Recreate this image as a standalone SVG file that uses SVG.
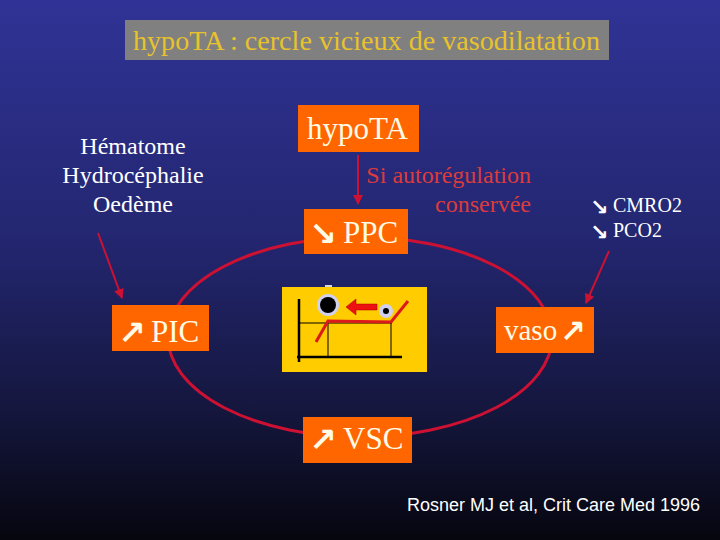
<svg xmlns="http://www.w3.org/2000/svg" width="720" height="540" viewBox="0 0 720 540">
<defs>
<linearGradient id="bg" x1="0" y1="0" x2="0" y2="1">
<stop offset="0" stop-color="#303395"/>
<stop offset="0.45" stop-color="#23266f"/>
<stop offset="0.75" stop-color="#15173f"/>
<stop offset="1" stop-color="#06060f"/>
</linearGradient>
<marker id="ah" viewBox="0 0 10 10" refX="9" refY="5" markerWidth="5" markerHeight="5" orient="auto">
<path d="M0,0 L10,5 L0,10 z" fill="#cc1133"/>
</marker>
<style>
.box{fill:#ff6600}
.bt{font-family:"Liberation Serif",serif;font-size:31px;fill:#fffbe6}
.ar{font-family:"DejaVu Sans",sans-serif;font-weight:bold;font-size:33px;fill:#fffbe6}
.sar{font-family:"DejaVu Sans",sans-serif;font-weight:bold;font-size:22px;fill:#ffffff}
.wt{font-family:"Liberation Serif",serif;font-size:24px;fill:#ffffff}
.conn{stroke:#cc1133;stroke-width:2;fill:none}
</style>
</defs>
<rect width="720" height="540" fill="url(#bg)"/>

<g id="title">
<rect x="125" y="20" width="484" height="40" fill="#808080"/>
<text x="133" y="50" font-family="Liberation Serif, serif" font-size="28" fill="#e8c22c" textLength="467" lengthAdjust="spacingAndGlyphs">hypoTA : cercle vicieux de vasodilatation</text>
</g>

<g id="connectors">
<ellipse cx="360" cy="337" rx="192" ry="100" fill="none" stroke="#cc1133" stroke-width="3"/>
<line class="conn" x1="358" y1="155" x2="358" y2="204" marker-end="url(#ah)"/>
<line class="conn" x1="98" y1="233" x2="122" y2="298" marker-end="url(#ah)"/>
<line class="conn" x1="609" y1="251" x2="586" y2="303" marker-end="url(#ah)"/>
</g>

<g id="causes">
<text class="wt" text-anchor="middle" x="133" y="154">Hématome</text>
<text class="wt" text-anchor="middle" x="133" y="183">Hydrocéphalie</text>
<text class="wt" text-anchor="middle" x="133" y="212">Oedème</text>
</g>

<g id="hypoTA">
<rect class="box" x="298" y="105" width="121" height="47"/>
<text class="bt" x="307" y="139">hypoTA</text>
</g>

<g id="autoreg">
<text x="531" y="183" text-anchor="end" font-family="Liberation Serif, serif" font-size="24" fill="#dd3b3b">Si autorégulation</text>
<text x="531" y="212" text-anchor="end" font-family="Liberation Serif, serif" font-size="24" fill="#dd3b3b">conservée</text>
</g>

<g id="PPC">
<rect class="box" x="304" y="209" width="104" height="45"/>
<text class="ar" x="309" y="245">↘</text>
<text class="bt" x="343" y="243">PPC</text>
</g>

<g id="metab">
<text class="sar" x="590" y="215">↘</text>
<text x="613" y="212" font-family="Liberation Serif, serif" font-size="20" fill="#ffffff">CMRO2</text>
<text class="sar" x="590" y="240">↘</text>
<text x="613" y="237" font-family="Liberation Serif, serif" font-size="20" fill="#ffffff">PCO2</text>
</g>

<g id="PIC">
<rect class="box" x="112" y="305" width="97" height="46"/>
<text class="ar" x="118" y="344">↗</text>
<text class="bt" x="151" y="342">PIC</text>
</g>

<g id="vaso">
<rect class="box" x="496" y="307" width="98" height="46"/>
<text class="bt" x="504" y="340" style="font-size:29px">vaso</text>
<text class="ar" x="560" y="342" style="font-size:31px">↗</text>
</g>

<g id="VSC">
<rect class="box" x="303" y="417" width="109" height="46"/>
<text class="ar" x="309" y="451">↗</text>
<text class="bt" x="343" y="449">VSC</text>
</g>

<g id="graph">
<rect x="325" y="285" width="7" height="2" fill="#d8d8e0"/>
<rect x="282" y="287" width="145" height="85" fill="#ffcc00"/>
<line x1="299" y1="323" x2="392" y2="323" stroke="#000" stroke-width="1"/>
<line x1="328" y1="323" x2="328" y2="357" stroke="#000" stroke-width="1"/>
<line x1="391" y1="323" x2="391" y2="357" stroke="#000" stroke-width="1"/>
<line x1="299" y1="299" x2="299" y2="362" stroke="#000" stroke-width="2.5"/>
<line x1="297" y1="357" x2="402" y2="357" stroke="#000" stroke-width="2.5"/>
<polyline points="316,342 328,321 391,322 408,301" fill="none" stroke="#dd1a1a" stroke-width="3"/>
<circle cx="328" cy="305" r="11" fill="#d0d0f0"/>
<circle cx="328" cy="305" r="8" fill="#000"/>
<circle cx="386" cy="311" r="7" fill="#d0d0f0"/>
<circle cx="386" cy="311" r="3" fill="#000"/>
<path d="M346,307 L356,299 L356,304 L377,304 L377,310 L356,310 L356,315 Z" fill="#ee1111" stroke="#aa0000" stroke-width="0.5"/>
</g>

<g id="ref">
<text x="407" y="511" font-family="Liberation Sans, Arial, sans-serif" font-size="18" fill="#ffffff">Rosner MJ et al, Crit Care Med 1996</text>
</g>
</svg>
